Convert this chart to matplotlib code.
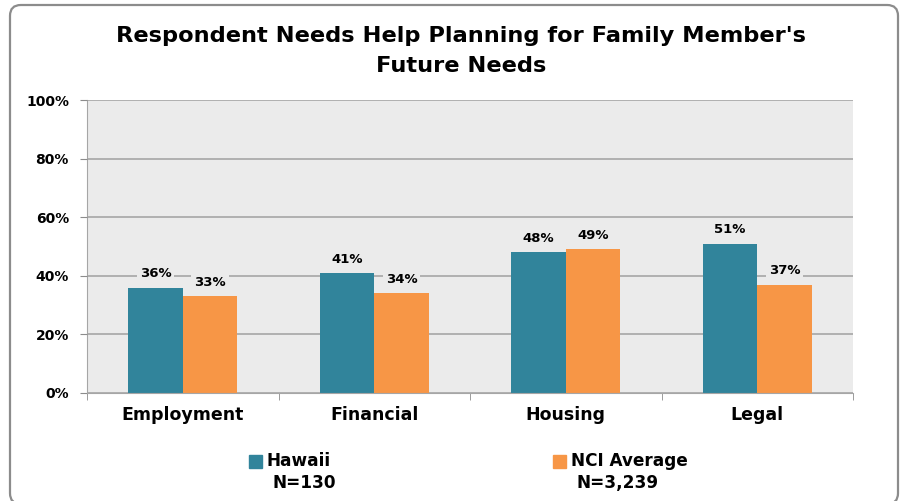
import numpy as np
import matplotlib.pyplot as plt
from matplotlib.patches import FancyBboxPatch

categories = ["Employment", "Financial", "Housing", "Legal"]
hawaii = [36, 41, 48, 51]
nci = [33, 34, 49, 37]
series_names = ["Hawaii", "NCI Average"]
series_n = ["N=130", "N=3,239"]
yticks = [0, 20, 40, 60, 80, 100]

teal = "#31849B"
orange = "#F79646"
plot_bg = "#EBEBEB"

plt.rcParams['font.family'] = ['DejaVu Sans']
plt.rcParams['font.weight'] = 'bold'

fig = plt.figure(figsize=(9, 5.01), dpi=100)
# rounded chart frame (bottom edge sits at the image border)
fig.patches.append(FancyBboxPatch((10 / 900, -3 / 501), 888 / 900, 499 / 501,
                                  boxstyle="round,pad=0,rounding_size=0.012",
                                  mutation_aspect=900 / 501,
                                  transform=fig.transFigure, fill=False,
                                  edgecolor="#8C8C8C", linewidth=1.6))

ax = fig.add_axes([87 / 900, 1 - 393 / 501, (853 - 87) / 900, (393 - 100) / 501])
ax.set_facecolor(plot_bg)

x = np.arange(len(categories))
w = 0.285
ax.bar(x - w / 2, hawaii, w, color=teal, zorder=2)
ax.bar(x + w / 2, nci, w, color=orange, zorder=2)

for xi, v in zip(x - w / 2, hawaii):
    ax.text(xi, v + 2.5, f"{v}%", ha="center", va="bottom", fontsize=9.5,
            fontweight="bold", zorder=3,
            bbox=dict(facecolor=plot_bg, edgecolor="none", pad=2))
for xi, v in zip(x + w / 2, nci):
    ax.text(xi, v + 2.5, f"{v}%", ha="center", va="bottom", fontsize=9.5,
            fontweight="bold", zorder=3,
            bbox=dict(facecolor=plot_bg, edgecolor="none", pad=2))

ax.set_xlim(-0.5, 3.5)
ax.set_ylim(0, 100)
ax.set_yticks(yticks)
ax.set_yticklabels([f"{t}%" for t in yticks], fontsize=10, fontweight="bold")
ax.set_xticks(x)
ax.set_xticklabels(categories, fontsize=12.5, fontweight="bold")
ax.set_xticks(np.arange(-0.5, 4.0, 1.0), minor=True)
ax.tick_params(axis="x", which="major", length=0, pad=9)
ax.tick_params(axis="x", which="minor", length=5, color="#8C8C8C")
ax.tick_params(axis="y", length=5, color="#8C8C8C", pad=8)
ax.yaxis.grid(True, color="#A6A6A6", linewidth=1.2, zorder=1)
ax.set_axisbelow(True)
for side in ["top", "right"]:
    ax.spines[side].set_visible(False)
ax.spines["left"].set_color("#A6A6A6")
ax.spines["bottom"].set_color("#A6A6A6")
ax.spines["left"].set_zorder(0)

fig.text(0.512, 1 - 36 / 501, "Respondent Needs Help Planning for Family Member's",
         ha="center", va="center", fontsize=16.2, fontweight="bold")
fig.text(0.512, 1 - 66 / 501, "Future Needs",
         ha="center", va="center", fontsize=16.2, fontweight="bold")

# legend
for mx, color, name, n in [(249, teal, series_names[0], series_n[0]),
                           (553, orange, series_names[1], series_n[1])]:
    fig.patches.append(plt.Rectangle((mx / 900, 1 - 468 / 501), 13 / 900, 13 / 501,
                                     transform=fig.transFigure, color=color))
    fig.text((mx + 18) / 900, 1 - 461 / 501, name, ha="left", va="center",
             fontsize=12.2, fontweight="bold")
    fig.text((mx + 24) / 900, 1 - 483 / 501, n, ha="left", va="center",
             fontsize=12.2, fontweight="bold")

fig.savefig("out.png", dpi=100)
